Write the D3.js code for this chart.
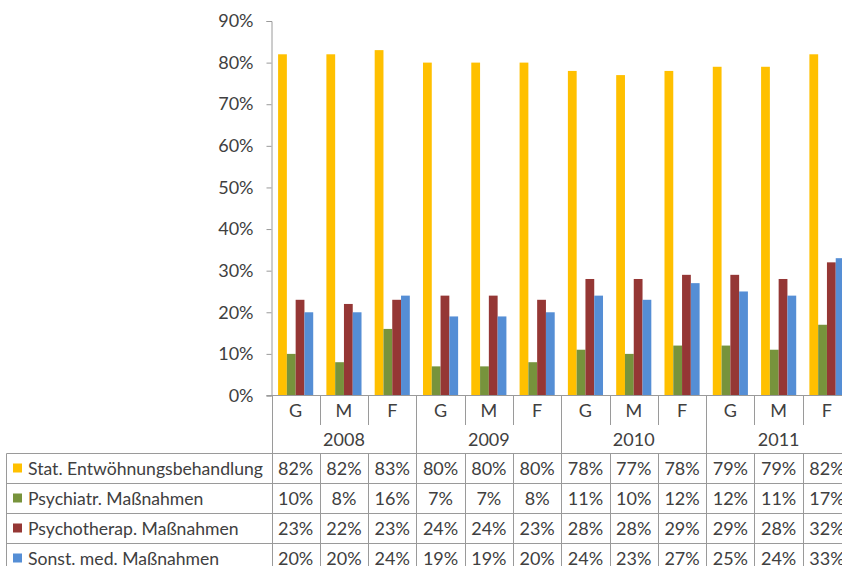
<!DOCTYPE html>
<html>
<head>
<meta charset="utf-8">
<script src="https://cdn.jsdelivr.net/npm/d3@7"></script>
<style>
  body { margin: 0; background: #fff; }
  svg text { font-family: Lato, "Noto Sans", sans-serif; fill: #404040; }
</style>
</head>
<body>
<div id="chart"></div>
<script>
// data
var years = ["2008", "2009", "2010", "2011"]
var subCats = ["G", "M", "F"]
var seriesNames = ["Stat. Entwöhnungsbehandlung", "Psychiatr. Maßnahmen", "Psychotherap. Maßnahmen", "Sonst. med. Maßnahmen"]
var statEntw = [82, 82, 83, 80, 80, 80, 78, 77, 78, 79, 79, 82]
var psychiatr = [10, 8, 16, 7, 7, 8, 11, 10, 12, 12, 11, 17]
var psychotherap = [23, 22, 23, 24, 24, 23, 28, 28, 29, 29, 28, 32]
var sonstMed = [20, 20, 24, 19, 19, 20, 24, 23, 27, 25, 24, 33]
var yTicks = [0, 10, 20, 30, 40, 50, 60, 70, 80, 90]
var colors = ["#FFC000", "#77933C", "#953735", "#558ED5"]

var seriesValues = [statEntw, psychiatr, psychotherap, sonstMed]
var categories = []
years.forEach(function(yr) { subCats.forEach(function(s) { categories.push(yr + "-" + s) }) })

var W = 842, H = 566
var plotLeft = 271.5, bandW = 48.3
var plotRight = plotLeft + bandW * categories.length
var plotTop = 21, plotBottom = 395.5
var rowLines = [453.5, 483.5, 513.5, 543.5, 573.5]
var tableLeft = 6.5
var lineColor = "#9a9a9a"
var fontSize = "18px"

var svg = d3.select("#chart").append("svg")
  .attr("width", W)
  .attr("height", H)

var x = d3.scaleBand()
  .domain(categories)
  .range([plotLeft, plotRight])
  .padding(0)

var xSeries = d3.scaleBand()
  .domain(d3.range(seriesNames.length))
  .range([0, x.bandwidth()])
  .paddingInner(0)
  .paddingOuter(0.75)

var y = d3.scaleLinear()
  .domain([0, 90])
  .range([plotBottom, plotTop])

// bars
var groups = svg.append("g")
  .selectAll("g")
  .data(categories)
  .enter()
  .append("g")
    .attr("transform", function(d) { return "translate(" + x(d) + ",0)" })

groups.selectAll("rect")
  .data(function(d, i) { return seriesValues.map(function(vals, k) { return {k: k, value: vals[i]} }) })
  .enter().append("rect")
    .attr("x", function(d) { return xSeries(d.k) })
    .attr("y", function(d) { return y(d.value) })
    .attr("width", xSeries.bandwidth())
    .attr("height", function(d) { return plotBottom - y(d.value) })
    .attr("fill", function(d) { return colors[d.k] })

// y axis
var yAxis = svg.append("g")
  .attr("transform", "translate(" + plotLeft + ",0)")
  .call(d3.axisLeft(y).tickValues(yTicks).tickFormat(function(d) { return d + "%" }).tickSize(5).tickPadding(13))
yAxis.select(".domain").attr("stroke", lineColor)
yAxis.selectAll(".tick line").attr("stroke", lineColor)
yAxis.selectAll(".tick text").style("font-size", fontSize).style("font-family", null).attr("fill", "#404040")

// x axis line
svg.append("line")
  .attr("x1", plotLeft - 5).attr("x2", W)
  .attr("y1", plotBottom).attr("y2", plotBottom)
  .attr("stroke", lineColor)

// category dividers (short) and year dividers (long)
categories.forEach(function(c, i) {
  var xx = Math.round(x(c)) + 0.5
  var isYear = i % subCats.length == 0
  svg.append("line")
    .attr("x1", xx).attr("x2", xx)
    .attr("y1", plotBottom).attr("y2", isYear ? H : 425)
    .attr("stroke", lineColor)
  if (!isYear) {
    svg.append("line")
      .attr("x1", xx).attr("x2", xx)
      .attr("y1", rowLines[0]).attr("y2", H)
      .attr("stroke", lineColor)
  }
})

// sub category labels
svg.append("g").selectAll("text")
  .data(categories)
  .enter().append("text")
    .attr("x", function(d) { return x(d) + x.bandwidth() / 2 })
    .attr("y", 417)
    .attr("text-anchor", "middle")
    .style("font-size", fontSize)
    .text(function(d) { return d.split("-")[1] })

// year labels
svg.append("g").selectAll("text")
  .data(years)
  .enter().append("text")
    .attr("x", function(d) { return x(d + "-G") + x.bandwidth() * 1.5 })
    .attr("y", 446)
    .attr("text-anchor", "middle")
    .style("font-size", fontSize)
    .text(function(d) { return d })

// table rows
rowLines.forEach(function(r) {
  svg.append("line")
    .attr("x1", tableLeft).attr("x2", W)
    .attr("y1", r).attr("y2", r)
    .attr("stroke", lineColor)
})
svg.append("line")
  .attr("x1", tableLeft).attr("x2", tableLeft)
  .attr("y1", rowLines[0]).attr("y2", H)
  .attr("stroke", lineColor)

var rows = svg.append("g").selectAll("g")
  .data(seriesNames)
  .enter().append("g")
    .attr("transform", function(d, i) { return "translate(0," + (rowLines[i] + 15) + ")" })

rows.append("rect")
  .attr("x", 13).attr("y", -5)
  .attr("width", 9).attr("height", 9)
  .attr("fill", function(d, i) { return colors[i] })

rows.append("text")
  .attr("x", 28).attr("y", 6.5)
  .style("font-size", "17.6px")
  .text(function(d) { return d })

rows.each(function(name, k) {
  d3.select(this).selectAll(".val")
    .data(seriesValues[k])
    .enter().append("text")
      .attr("class", "val")
      .attr("x", function(d, i) { return x(categories[i]) + x.bandwidth() / 2 })
      .attr("y", 6.5)
      .attr("text-anchor", "middle")
      .style("font-size", fontSize)
      .text(function(d) { return d + "%" })
})
</script>
</body>
</html>
